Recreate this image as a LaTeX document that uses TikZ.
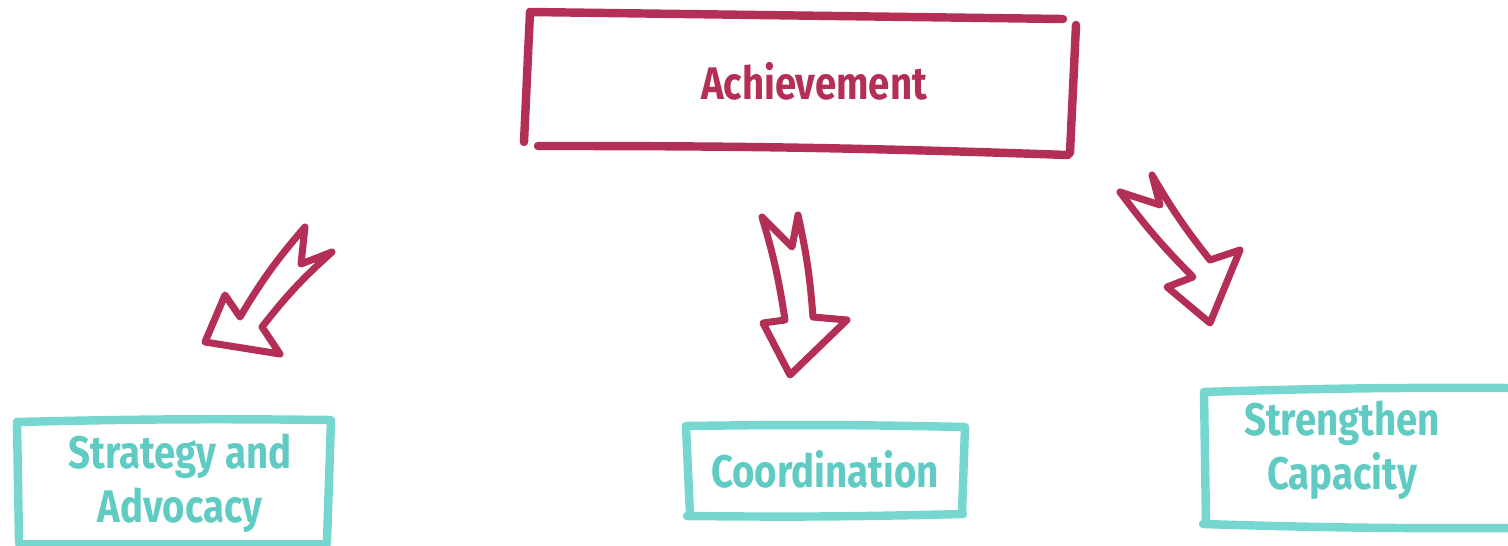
\documentclass[tikz,border=0pt]{standalone}
\usepackage{fontspec}
\setmainfont{Fira Sans}[FakeStretch=0.84]
\definecolor{achred}{HTML}{B32F55}
\definecolor{boxteal}{HTML}{76D6D0}
\definecolor{textteal}{HTML}{5FCBC3}
\tikzset{
  sketchline/.style={line width=4.8pt, line cap=round, line join=round},
  arrowline/.style={draw=achred, line width=4pt, line cap=round, line join=round},
  boxtext/.style={font=\bfseries\fontsize{26}{31}\selectfont, align=center, inner sep=0pt}
}

\begin{document}
\begin{tikzpicture}[x=0.02cm, y=-0.02cm]
  \useasboundingbox (0,0) rectangle (1508,545);

  % Верхний блок
  \node[boxtext, text=achred] (ach) at (814,81) {Achievement};
  \draw[sketchline, achred] (530,12) -- (1063,19);
  \draw[sketchline, achred] (1076,25) -- (1070,153);
  \draw[sketchline, achred] (538,146) to[bend left=1] (1068,155);
  \draw[sketchline, achred] (530,12) -- (524,142);

  % Нижние блоки
  \node[boxtext, text=textteal] (strat) at (180,483) {Strategy and\\Advocacy};
  \draw[sketchline, boxteal] (17,422) to[bend left=1] (331,420) -- (327,541);
  \draw[sketchline, boxteal] (17,422) -- (19,541);
  \draw[sketchline, boxteal] (19,544) -- (327,544);

  \node[boxtext, text=textteal] (coord) at (825,469) {Coordination};
  \draw[sketchline, boxteal] (686,426) to[bend left=1] (965,427) -- (962,513);
  \draw[sketchline, boxteal] (686,426) -- (690,515);
  \draw[sketchline, boxteal] (687,516) to[bend right=1] (963,514);

  \node[boxtext, text=textteal] (capac) at (1342,450) {Strengthen\\Capacity};
  \draw[sketchline, boxteal] (1204,392) to[bend left=1] (1515,388);
  \draw[sketchline, boxteal] (1204,392) -- (1206,523);
  \draw[sketchline, boxteal] (1203,524) to[bend right=1] (1515,528);

  % Стрелки
  \draw[arrowline] (305,227) to[bend right=5] (240,317) -- (225,295) -- (205,342)
    -- (280,354) -- (262,327) to[bend left=5] (332,252) -- (301,264) -- cycle;
  \draw[arrowline] (762,217) to[bend left=4] (785,320) -- (763,323) -- (790,375)
    -- (847,320) -- (813,317) to[bend right=4] (798,215) -- (792,247) -- cycle;
  \draw[arrowline] (1120,192) to[bend right=4] (1193,277) -- (1167,287) -- (1210,323)
    -- (1240,250) -- (1210,260) to[bend left=4] (1152,175) -- (1160,205) -- cycle;
\end{tikzpicture}
\end{document}
